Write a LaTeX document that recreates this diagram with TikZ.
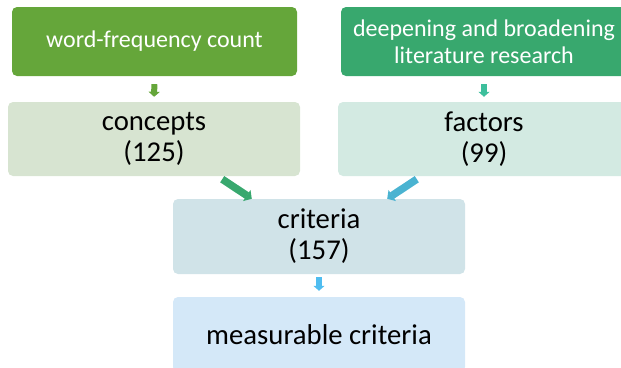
\documentclass[tikz,border=0pt]{standalone}
\usepackage{fontspec}
\setmainfont{Carlito}
\usetikzlibrary{arrows.meta,calc}
\definecolor{cA}{HTML}{65A63A}
\definecolor{cB}{HTML}{38A86E}
\definecolor{cC}{HTML}{D7E4D1}
\definecolor{cD}{HTML}{D3EAE2}
\definecolor{cE}{HTML}{D0E3E8}
\definecolor{cF}{HTML}{D4E8F8}
\definecolor{aTeal}{HTML}{3DBF9C}
\definecolor{aBlue}{HTML}{4AB3D1}
\definecolor{aSky}{HTML}{4FBDF0}
\begin{document}
\begin{tikzpicture}[x=1pt,y=-1pt,
  topbox/.style={rectangle, rounded corners=5pt, inner sep=0pt, align=center, text=white,
    font=\fontsize{24}{27}\selectfont, minimum height=69pt},
  midbox/.style={rectangle, rounded corners=5pt, inner sep=0pt, align=center, text=black,
    font=\fontsize{28.7}{31}\selectfont, minimum width=292pt, minimum height=74pt},
  sarrow/.style={line width=6pt, -{Triangle[width=11pt,length=5pt]}},
  darrow/.style={line width=7.5pt, -{Triangle[width=13pt,length=6pt]}}]
\clip (0,0) rectangle (621,367);
\node[topbox, fill=cA, minimum width=285pt] (w) at (154.5,41.5) {word-frequency count};
\node[topbox, fill=cB, minimum width=286pt] (d) at (484,41.5) {deepening and broadening\\literature research};
\node[midbox, fill=cC] (c) at (154,139) {concepts\\(125)};
\node[midbox, fill=cD] (f) at (484,139) {factors\\(99)};
\node[midbox, fill=cE, minimum height=75pt] (k) at (319,236.5) {criteria\\(157)};
\node[midbox, fill=cF, minimum height=75pt] (m) at (319,334.5) {measurable criteria};
\draw[sarrow, cA, shorten <=8pt, shorten >=5pt] (w.south) -- (c.north);
\draw[sarrow, aTeal, shorten <=8pt, shorten >=5pt] (d.south) -- (f.north);
\draw[sarrow, aSky, shorten <=3pt, shorten >=6pt] (k.south) -- (m.north);
\draw[darrow, cB] ($(c.south east)+(-78,3)$) -- ($(k.north west)+(79,0)$);
\draw[darrow, aBlue] ($(f.south west)+(79,3)$) -- ($(k.north east)+(-78,0)$);
\end{tikzpicture}
\end{document}
